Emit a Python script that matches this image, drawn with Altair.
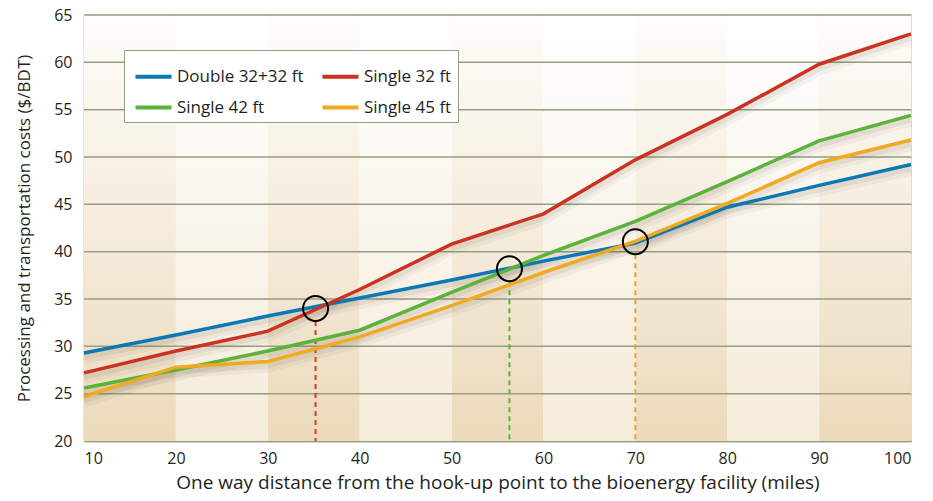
import altair as alt
import pandas as pd

distance = [10, 20, 30, 40, 50, 60, 70, 80, 90, 100]
series_names = ["Double 32+32 ft", "Single 32 ft", "Single 42 ft", "Single 45 ft"]
double_32_32 = [29.3, 31.2, 33.2, 35.1, 37.0, 39.0, 40.9, 44.7, 47.0, 49.2]
single_32 = [27.2, 29.5, 31.6, 36.0, 40.8, 44.0, 49.7, 54.5, 59.8, 63.0]
single_42 = [25.6, 27.5, 29.5, 31.7, 35.7, 39.6, 43.2, 47.4, 51.7, 54.4]
single_45 = [24.7, 27.8, 28.4, 31.0, 34.3, 37.8, 41.1, 45.1, 49.4, 51.8]
color_map = {"Double 32+32 ft": "#0a78b4", "Single 32 ft": "#cc3222",
             "Single 42 ft": "#5ab43c", "Single 45 ft": "#f0aa22"}
# legend is laid out column by column: order so that rows read Double | Single 32, Single 42 | Single 45
legend_order = ["Double 32+32 ft", "Single 42 ft", "Single 32 ft", "Single 45 ft"]

cross_x = [35.2, 56.3, 70.0]
cross_y = [34.0, 38.2, 41.05]
cross_color = ["#d63b2a", "#5ab43c", "#f0a030"]

band_dark_start = [10, 30, 50, 70, 90]
band_light_start = [20, 40, 60, 80]

rows = []
for name, vals in zip(series_names, [double_32_32, single_32, single_42, single_45]):
    for d, v in zip(distance, vals):
        rows.append({"distance": d, "cost": v, "series": name})
df = pd.DataFrame(rows)

cross_df = pd.DataFrame({
    "x": cross_x,
    "y": cross_y,
    "ytop": [v - 1.32 for v in cross_y],
    "ybot": [20] * 3,
    "c": cross_color,
})

dark_df = pd.DataFrame({"x": band_dark_start, "x2": [b + 10 for b in band_dark_start],
                        "y": [20] * 5, "y2": [65] * 5})
light_df = pd.DataFrame({"x": band_light_start, "x2": [b + 10 for b in band_light_start],
                         "y": [20] * 4, "y2": [65] * 4})

FONT = "Open Sans"
TXT = "#231f20"
GRID = "#959f82"
xscale = alt.Scale(domain=[10, 100], nice=False, zero=False)
yscale = alt.Scale(domain=[20, 65], nice=False, zero=False)

xaxis = alt.Axis(values=distance, title="One way distance from the hook-up point to the bioenergy facility (miles)",
                 grid=False, ticks=False, labelPadding=9, labelFontSize=16, labelColor=TXT,
                 titleFontSize=19, titleFontWeight="normal", titleColor=TXT, titlePadding=7,
                 domainColor=GRID, domainWidth=1.5, labelFont=FONT, titleFont=FONT)
yaxis = alt.Axis(values=list(range(20, 70, 5)), title="Processing and transportation costs ($/BDT)",
                 grid=True, gridColor=GRID, gridWidth=1.5, ticks=False, labelPadding=12,
                 labelFontSize=16, labelColor=TXT, titleFontSize=17, titleFontWeight="normal",
                 titleColor=TXT, titlePadding=20, domainColor=GRID, domainWidth=1.5,
                 labelFont=FONT, titleFont=FONT)

grad_dark = alt.Gradient(gradient="linear", x1=0, x2=0, y1=0, y2=1,
                         stops=[alt.GradientStop(offset=0, color="#fefdfb"),
                                alt.GradientStop(offset=0.5, color="#f5ecdc"),
                                alt.GradientStop(offset=1, color="#ebdabb")])
grad_light = alt.Gradient(gradient="linear", x1=0, x2=0, y1=0, y2=1,
                          stops=[alt.GradientStop(offset=0, color="#ffffff"),
                                 alt.GradientStop(offset=0.5, color="#faf5ec"),
                                 alt.GradientStop(offset=1, color="#f5ebd9")])

dark = alt.Chart(dark_df).mark_rect(color=grad_dark).encode(
    x=alt.X("x:Q", scale=xscale, axis=xaxis), x2="x2", y=alt.Y("y:Q", scale=yscale, axis=yaxis), y2="y2")
light = alt.Chart(light_df).mark_rect(color=grad_light).encode(
    x=alt.X("x:Q", scale=xscale), x2="x2", y=alt.Y("y:Q", scale=yscale), y2="y2")

grid = alt.Chart(pd.DataFrame({"v": list(range(25, 70, 5))})).mark_rule(
    color=GRID, strokeWidth=1.5).encode(y=alt.Y("v:Q", scale=yscale))

shadow1 = alt.Chart(df).mark_line(strokeWidth=12, color="#4a3c28", opacity=0.05, yOffset=5).encode(
    x=alt.X("distance:Q", scale=xscale), y=alt.Y("cost:Q", scale=yscale), detail="series:N")
shadow2 = alt.Chart(df).mark_line(strokeWidth=6, color="#4a3c28", opacity=0.08, yOffset=4).encode(
    x=alt.X("distance:Q", scale=xscale), y=alt.Y("cost:Q", scale=yscale), detail="series:N")

rules = alt.Chart(cross_df).mark_rule(strokeWidth=2, strokeDash=[5, 4]).encode(
    x=alt.X("x:Q", scale=xscale), y=alt.Y("ytop:Q", scale=yscale), y2="ybot",
    color=alt.Color("c:N", scale=None))

label_expr = ("(datum.label == 'Single 32 ft' || datum.label == 'Single 45 ft') "
              "? datum.label + '\u00a0\u00a0\u00a0' : datum.label")

lines = alt.Chart(df).mark_line(strokeWidth=3.5).encode(
    x=alt.X("distance:Q", scale=xscale),
    y=alt.Y("cost:Q", scale=yscale),
    color=alt.Color("series:N",
                    scale=alt.Scale(domain=legend_order, range=[color_map[s] for s in legend_order]),
                    legend=alt.Legend(title=None, orient="none", legendX=40, legendY=35, columns=2,
                                      symbolType="stroke", symbolSize=1300, symbolStrokeWidth=4,
                                      symbolOffset=3, labelExpr=label_expr,
                                      labelFontSize=17, labelFont=FONT, labelColor=TXT,
                                      strokeColor=GRID, fillColor="white", padding=6,
                                      columnPadding=10, rowPadding=2, labelOffset=3,
                                      labelLimit=250)),
)

circles = alt.Chart(cross_df).mark_point(shape="circle", filled=False, size=625, color="black",
                                         strokeWidth=2, opacity=1).encode(
    x=alt.X("x:Q", scale=xscale), y=alt.Y("y:Q", scale=yscale))

chart = alt.layer(dark, light, grid, shadow1, shadow2, rules, lines, circles).properties(
    width=827, height=426,
    autosize=alt.AutoSizeParams(type="none"),
    padding={"left": 76, "top": 7, "right": 14, "bottom": 52},
).configure_view(stroke=None).configure(background="white")

chart.save("out.html", embed_options={"renderer": "svg", "actions": False})
